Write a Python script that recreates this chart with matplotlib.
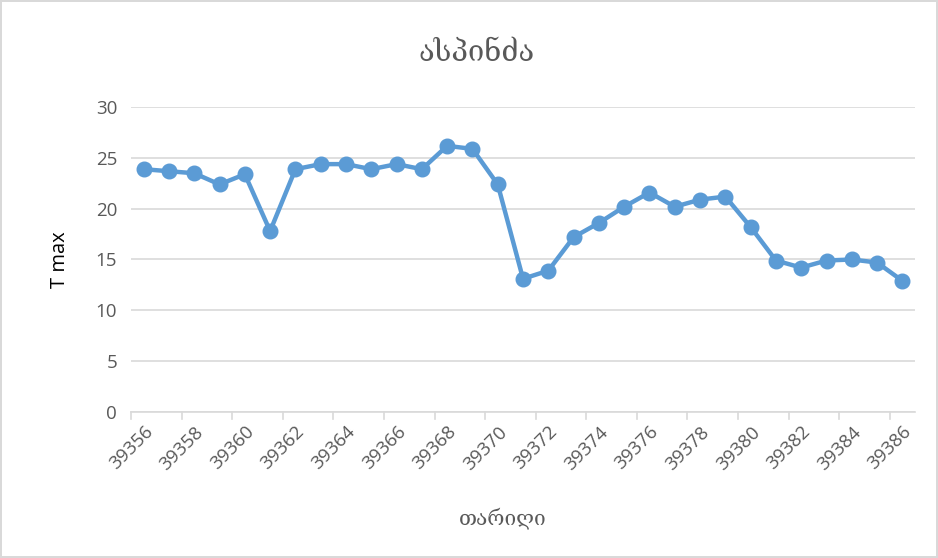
import matplotlib.pyplot as plt
import numpy as np

# dates as Excel serial numbers, max temperature
dates = list(range(39356, 39387))
t_max = [23.9, 23.7, 23.5, 22.4, 23.4, 17.8, 23.9, 24.4, 24.4, 23.9,
         24.4, 23.9, 26.2, 25.9, 22.4, 13.1, 13.9, 17.2, 18.6, 20.2,
         21.6, 20.2, 20.9, 21.2, 18.2, 14.9, 14.2, 14.9, 15.0, 14.7, 12.9]

title = "ასპინძა"
x_title = "თარიღი"
y_title = "T max"

grey = "#595959"
blue = "#5B9BD5"

fig = plt.figure(figsize=(9.38, 5.58), dpi=100)
fig.patch.set_edgecolor("#D9D9D9")
fig.patch.set_linewidth(1.5)
ax = fig.add_axes([0.1397, 0.2622, 0.8358, 0.5455])

x = np.arange(len(dates))
ax.plot(x, t_max, color=blue, linewidth=3.2, marker="o", markersize=10.5,
        zorder=3)

ax.set_xlim(-0.5, len(dates) - 0.5)
ax.set_ylim(0, 30)
ax.set_yticks(range(0, 31, 5))
ax.yaxis.grid(True, color="#D9D9D9", linewidth=1.2)
ax.set_axisbelow(True)

# labels on every other category, ticks on category boundaries
ax.set_xticks(x[::2])
ax.set_xticklabels([str(d) for d in dates[::2]], rotation=45, ha="right",
                   rotation_mode="anchor", fontsize=13.5, color=grey,
                   family="Open Sans")
ax.tick_params(axis="x", length=0, pad=8)
for b in np.arange(-0.5, len(dates), 2):
    ax.plot([b, b], [0, -0.7], color="#D9D9D9", lw=1.2, clip_on=False)
ax.tick_params(axis="y", length=0, labelsize=13.5, labelcolor=grey, pad=10)
for lab in ax.get_yticklabels():
    lab.set_family("Open Sans")

for s in ["top", "right", "left"]:
    ax.spines[s].set_visible(False)
ax.spines["bottom"].set_color("#D9D9D9")
ax.spines["bottom"].set_linewidth(1.2)

fig.text(0.508, 0.905, title, ha="center", va="center", fontsize=21,
         color=grey, family="DejaVu Serif")
fig.text(0.536, 0.072, x_title, ha="center", va="center", fontsize=15,
         color=grey, family="DejaVu Serif")
fig.text(0.064, 0.535, y_title, ha="center", va="center", rotation=90,
         fontsize=14.5, color="black", family="Open Sans")

fig.savefig("out.png", dpi=100)
